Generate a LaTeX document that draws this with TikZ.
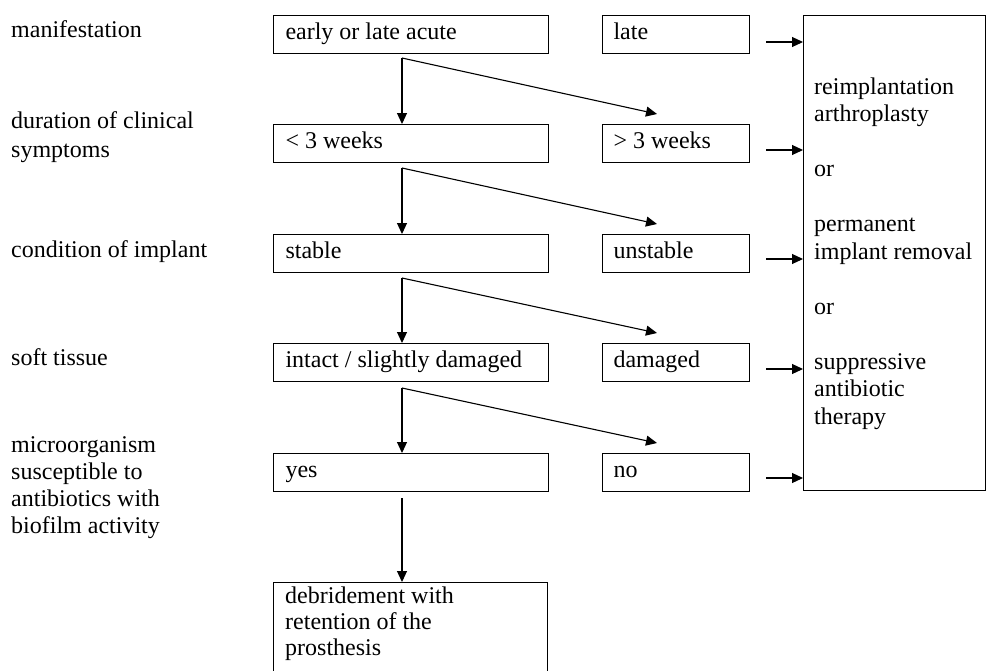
\documentclass[tikz,border=0pt]{standalone}
\usepackage{fontspec}
\setmainfont{Liberation Serif}
\usetikzlibrary{arrows.meta}
\begin{document}
\begin{tikzpicture}[x=1pt,y=-1pt,
  font=\fontsize{24}{27.5}\selectfont,
  lbl/.style={anchor=base west, inner sep=0pt, align=left},
  boxbase/.style={draw, line width=1pt, anchor=north west, inner ysep=0pt,
    text height=24pt, text depth=14pt, align=flush left},
  lbox/.style={boxbase, inner xsep=12pt, text width=251pt},
  rbox/.style={boxbase, inner xsep=11pt, text width=125pt},
  frame/.style={draw, line width=1pt, anchor=north west, inner sep=0pt},
  arr/.style={line width=1.1pt, -{Triangle[length=11pt,width=10pt]}}]
\useasboundingbox (0,0) rectangle (988,670);

% row labels (anchor = baseline of last line)
\node[lbl] (m1) at (11,37) {manifestation};
\node[lbl] (m2) at (11,157) {duration of clinical\\[1.5pt]symptoms};
\node[lbl] (m3) at (11,257) {condition of implant};
\node[lbl] (m4) at (11,365) {soft tissue};
\node[lbl, font=\fontsize{24}{26.7}\selectfont] (m5) at (11,533) {microorganism\\susceptible to\\antibiotics with\\biofilm activity};

% left boxes
\node[lbox] (L1) at (273,15) {early or late acute};
\node[lbox] (L2) at (273,124) {< 3 weeks};
\node[lbox] (L3) at (273,234) {stable};
\node[lbox] (L4) at (273,343) {intact / slightly damaged};
\node[lbox] (L5) at (273,453) {yes};

% right boxes
\node[rbox] (R1) at (602,15) {late};
\node[rbox] (R2) at (602,124) {> 3 weeks};
\node[rbox] (R3) at (602,234) {unstable};
\node[rbox] (R4) at (602,343) {damaged};
\node[rbox] (R5) at (602,453) {no};

% final box
\node[frame, minimum width=274pt, minimum height=100pt] (deb) at (273,582) {};
\node[lbl, font=\fontsize{24}{26}\selectfont] (debt) at (285,655) {debridement with\\retention of the\\prosthesis};

% outcome box
\node[frame, minimum width=182pt, minimum height=475pt] (big) at (803,15) {};
\node[lbl] (bigt) at (814,424) {reimplantation\\arthroplasty\\[27.5pt]or\\[27.5pt]permanent\\implant removal\\[27.5pt]or\\[27.5pt]suppressive\\antibiotic\\therapy};

% branch points
\coordinate (s1) at (402,58);  \coordinate (d1) at (657,114);
\coordinate (s2) at (402,168); \coordinate (d2) at (657,224);
\coordinate (s3) at (402,278); \coordinate (d3) at (657,333);
\coordinate (s4) at (402,388); \coordinate (d4) at (657,443);
\coordinate (s5) at (402,498);

\draw[arr] (s1) -- (s1 |- L2.north);
\draw[arr] (s1) -- (d1);
\draw[arr] (s2) -- (s2 |- L3.north);
\draw[arr] (s2) -- (d2);
\draw[arr] (s3) -- (s3 |- L4.north);
\draw[arr] (s3) -- (d3);
\draw[arr] (s4) -- (s4 |- L5.north);
\draw[arr] (s4) -- (d4);
\draw[arr] (s5) -- (s5 |- deb.north);

% arrows to outcome box
\coordinate (a1) at (766,42);
\coordinate (a2) at (766,150);
\coordinate (a3) at (766,259);
\coordinate (a4) at (766,369);
\coordinate (a5) at (766,478);
\foreach \a in {a1,a2,a3,a4,a5}
  \draw[arr] (\a) -- (\a -| big.west);
\end{tikzpicture}
\end{document}
